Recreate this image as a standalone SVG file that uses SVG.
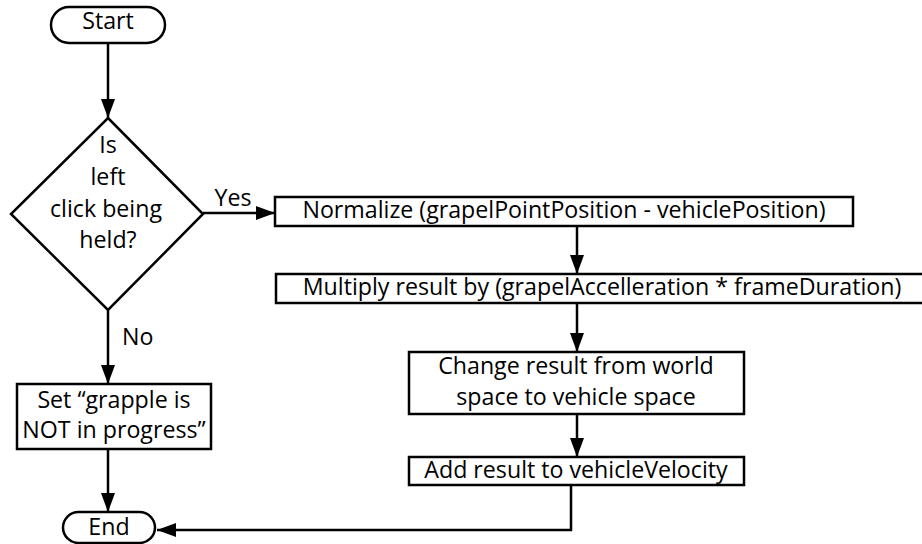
<svg xmlns="http://www.w3.org/2000/svg" width="922" height="544" viewBox="0 0 922 544">
  <style>
    .shape { fill: #ffffff; stroke: #000000; stroke-width: 2.5; }
    .wire { fill: none; stroke: #000000; stroke-width: 2.5; }
    text { font-family: "Open Sans", "Noto Sans", sans-serif; font-size: 23.2px; fill: #000000; }
    .c { text-anchor: middle; }
  </style>
  <defs>
    <marker id="arrow" markerUnits="userSpaceOnUse" markerWidth="20" markerHeight="16" refX="19" refY="7" orient="auto">
      <path d="M0,0 L19,7 L0,14 Z" fill="#000000"/>
    </marker>
  </defs>

  <rect width="922" height="544" fill="#ffffff"/>

  <!-- connectors -->
  <g id="connectors">
    <path class="wire" d="M108,43 V118" marker-end="url(#arrow)"/>
    <path class="wire" d="M203,213 H275" marker-end="url(#arrow)"/>
    <path class="wire" d="M108,310 V384" marker-end="url(#arrow)"/>
    <path class="wire" d="M108,449 V512" marker-end="url(#arrow)"/>
    <path class="wire" d="M577,226 V274" marker-end="url(#arrow)"/>
    <path class="wire" d="M577,303 V352" marker-end="url(#arrow)"/>
    <path class="wire" d="M577,414 V457" marker-end="url(#arrow)"/>
    <path class="wire" d="M571,485 V530 H157" marker-end="url(#arrow)"/>
    <text x="233" y="206" class="c">Yes</text>
    <text x="122" y="345">No</text>
  </g>

  <!-- nodes -->
  <g id="start">
    <rect class="shape" x="51" y="7" width="114" height="36" rx="18" ry="18"/>
    <text x="108" y="29" class="c">Start</text>
  </g>

  <g id="decision">
    <polygon class="shape" points="108,118 203,214 108,310 11,214"/>
    <text x="108" y="153" class="c">Is</text>
    <text x="108" y="185" class="c">left</text>
    <text x="106" y="217" class="c">click being</text>
    <text x="108" y="248" class="c">held?</text>
  </g>

  <g id="normalize">
    <rect class="shape" x="275" y="197" width="578" height="29"/>
    <text x="564" y="218" class="c">Normalize (grapelPointPosition - vehiclePosition)</text>
  </g>

  <g id="multiply">
    <rect class="shape" x="276" y="274" width="660" height="29"/>
    <text x="602" y="295" class="c">Multiply result by (grapelAccelleration * frameDuration)</text>
  </g>

  <g id="change-space">
    <rect class="shape" x="409" y="352" width="335" height="62"/>
    <text x="576" y="374" class="c">Change result from world</text>
    <text x="576" y="405" class="c">space to vehicle space</text>
  </g>

  <g id="add-velocity">
    <rect class="shape" x="409" y="457" width="335" height="28"/>
    <text x="576" y="478" class="c">Add result to vehicleVelocity</text>
  </g>

  <g id="set-not-grappling">
    <rect class="shape" x="17" y="384" width="194" height="65"/>
    <text x="114" y="408" class="c">Set “grapple is</text>
    <text x="114" y="438" class="c">NOT in progress”</text>
  </g>

  <g id="end">
    <rect class="shape" x="63" y="512" width="92" height="31" rx="15.5" ry="15.5"/>
    <text x="109" y="535" class="c">End</text>
  </g>
</svg>
